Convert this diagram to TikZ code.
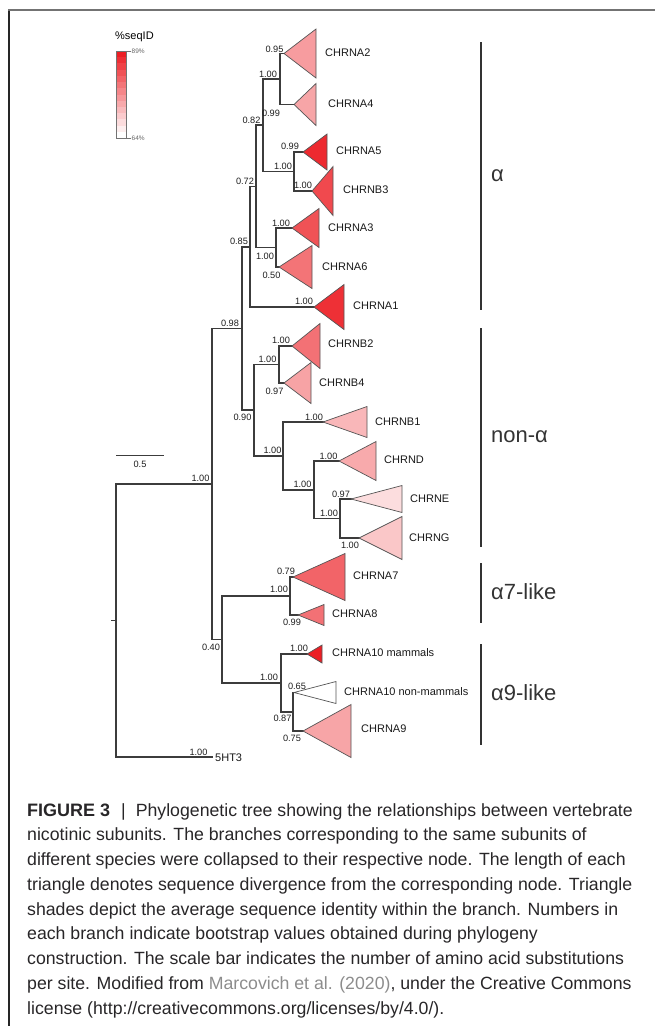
\documentclass[tikz,border=0pt]{standalone}
\usepackage{fontspec}
\setmainfont{Liberation Sans}
\definecolor{myred}{RGB}{236,30,36}
\definecolor{treegray}{RGB}{60,60,60}
\definecolor{edgegray}{RGB}{85,85,85}
\definecolor{captxt}{RGB}{40,38,40}
\definecolor{linkgray}{RGB}{140,140,140}
\begin{document}
\begin{tikzpicture}[x=1pt,y=-1pt,
  br/.style={draw=treegray,line width=1.1pt,line cap=rect},
  tri/.style={draw=edgegray,line width=0.7pt,line join=miter},
  bs/.style={font=\fontsize{9.2}{10}\selectfont,inner sep=0pt,text=black!88},
  tip/.style={font=\fontsize{11}{13}\selectfont,anchor=west,inner sep=0pt,text=black!90},
  grp/.style={font=\fontsize{22}{26}\selectfont,anchor=west,inner sep=0pt,text=black!80},
  grpbar/.style={draw=black!80,line width=1.3pt},
  capline/.style={font=\fontsize{17.7}{24}\selectfont,anchor=base west,inner sep=0pt,text=captxt}]
\useasboundingbox (0,0) rectangle (655,1026);
% frame
\coordinate (f1) at (9,1026);
\coordinate (f2) at (9,10);
\coordinate (f3) at (655,10);
\draw[black!85,line width=1.4pt] (f1) -- (f2);
\draw[black!55,line width=2pt] (8.3,10) -- (f3);
% legend
\node[font=\fontsize{11}{13}\selectfont,anchor=west,inner sep=0pt] (leg) at (115,37) {\%seqID};
\foreach \i in {0,...,13}{
  \pgfmathsetmacro{\pc}{100-\i*100/13}
  \fill[myred!\pc!white] (116,{51+\i*87/14}) rectangle (126,{51+(\i+1)*87/14});
}
\coordinate (lgA) at (116,51);
\coordinate (lgB) at (126,138);
\draw[black!55,line width=0.5pt] (lgA) rectangle (lgB);
\coordinate (tk1) at (131,51);
\coordinate (tk2) at (131,138);
\draw[black!55,line width=0.5pt] (126,51) -- (tk1);
\draw[black!55,line width=0.5pt] (126,138) -- (tk2);
\node[font=\fontsize{6.5}{7}\selectfont,anchor=west,inner sep=0.5pt,text=black!60] (l89) at (tk1) {89\%};
\node[font=\fontsize{6.5}{7}\selectfont,anchor=west,inner sep=0.5pt,text=black!60] (l64) at (tk2) {64\%};
% scale bar
\coordinate (sb1) at (116,455);
\coordinate (sb2) at (164,455);
\draw[treegray,line width=1pt] (sb1) -- (sb2);
\node[bs] (sbl) at (140,464) {0.5};
% tree coordinates
\coordinate (rstub) at (112,620.5);
\coordinate (root) at (116,620.5);
\coordinate (n1) at (212,484);
\coordinate (t5) at (212,757);
\coordinate (n2) at (242,328.5);
\coordinate (n11) at (222,639.5);
\coordinate (n3) at (250,247);
\coordinate (n9) at (254,410);
\coordinate (n4) at (256,186.5);
\coordinate (tA1) at (314,307);
\coordinate (n5) at (263,125);
\coordinate (n8) at (276,247.5);
\coordinate (n6) at (280,79);
\coordinate (n7) at (294,171.5);
\coordinate (tA2) at (284,53.5);
\coordinate (tA4) at (294,104.5);
\coordinate (tA5) at (303,152);
\coordinate (tB3) at (312,191);
\coordinate (tA3) at (292,228);
\coordinate (tA6) at (279,267);
\coordinate (n9a) at (279,364.5);
\coordinate (n10) at (283,456);
\coordinate (tB2) at (292,346);
\coordinate (tB4) at (284,383);
\coordinate (tB1) at (323,422);
\coordinate (n12) at (314,490);
\coordinate (tD) at (339,461);
\coordinate (n13) at (340,518.5);
\coordinate (tE) at (351,499);
\coordinate (tG) at (359,538);
\coordinate (n14) at (290,596);
\coordinate (n15) at (281,683);
\coordinate (tA7) at (293,577);
\coordinate (tA8) at (298,615);
\coordinate (tA10m) at (307,654);
\coordinate (n16) at (293,712);
\coordinate (tA10n) at (294,692.5);
\coordinate (tA9) at (303,731);
% branches
\draw[br] (rstub) -- (root);
\draw[br] (root) |- (n1);
\draw[br] (root) |- (t5);
\draw[br] (n1) |- (n2);
\draw[br] (n1) |- (n11);
\draw[br] (n2) |- (n3);
\draw[br] (n2) |- (n9);
\draw[br] (n3) |- (n4);
\draw[br] (n3) |- (tA1);
\draw[br] (n4) |- (n5);
\draw[br] (n4) |- (n8);
\draw[br] (n5) |- (n6);
\draw[br] (n5) |- (n7);
\draw[br] (n6) |- (tA2);
\draw[br] (n6) |- (tA4);
\draw[br] (n7) |- (tA5);
\draw[br] (n7) |- (tB3);
\draw[br] (n8) |- (tA3);
\draw[br] (n8) |- (tA6);
\draw[br] (n9) |- (n9a);
\draw[br] (n9) |- (n10);
\draw[br] (n9a) |- (tB2);
\draw[br] (n9a) |- (tB4);
\draw[br] (n10) |- (tB1);
\draw[br] (n10) |- (n12);
\draw[br] (n12) |- (tD);
\draw[br] (n12) |- (n13);
\draw[br] (n13) |- (tE);
\draw[br] (n13) |- (tG);
\draw[br] (n11) |- (n14);
\draw[br] (n11) |- (n15);
\draw[br] (n14) |- (tA7);
\draw[br] (n14) |- (tA8);
\draw[br] (n15) |- (tA10m);
\draw[br] (n15) |- (n16);
\draw[br] (n16) |- (tA10n);
\draw[br] (n16) |- (tA9);
% collapsed clades
\draw[tri,fill=myred!44!white] (tA2) -- ++(32,-24.5) -- ++(0,49) -- cycle;
\draw[tri,fill=myred!40!white] (tA4) -- ++(22,-21) -- ++(0,42) -- cycle;
\draw[tri,fill=myred!95!white] (tA5) -- ++(24,-18) -- ++(0,36) -- cycle;
\draw[tri,fill=myred!81!white] (tB3) -- ++(21,-24.5) -- ++(0,49) -- cycle;
\draw[tri,fill=myred!77!white] (tA3) -- ++(27,-19.5) -- ++(0,39) -- cycle;
\draw[tri,fill=myred!62!white] (tA6) -- ++(33,-21.5) -- ++(0,43) -- cycle;
\draw[tri,fill=myred!92!white] (tA1) -- ++(30,-22.5) -- ++(0,45) -- cycle;
\draw[tri,fill=myred!63!white] (tB2) -- ++(28,-22.5) -- ++(0,45) -- cycle;
\draw[tri,fill=myred!41!white] (tB4) -- ++(27,-20.5) -- ++(0,41) -- cycle;
\draw[tri,fill=myred!32!white] (tB1) -- ++(44,-15.5) -- ++(0,31) -- cycle;
\draw[tri,fill=myred!38!white] (tD) -- ++(37,-19.5) -- ++(0,39) -- cycle;
\draw[tri,fill=myred!15!white] (tE) -- ++(51,-13.5) -- ++(0,27) -- cycle;
\draw[tri,fill=myred!25!white] (tG) -- ++(43,-21.5) -- ++(0,43) -- cycle;
\draw[tri,fill=myred!69!white] (tA7) -- ++(52,-23.5) -- ++(0,47) -- cycle;
\draw[tri,fill=myred!63!white] (tA8) -- ++(26,-10.5) -- ++(0,21) -- cycle;
\draw[tri,fill=myred] (tA10m) -- ++(15,-9) -- ++(0,18) -- cycle;
\draw[tri,fill=white] (tA10n) -- ++(42,-11) -- ++(0,22) -- cycle;
\draw[tri,fill=myred!40!white] (tA9) -- ++(48,-26.5) -- ++(0,53) -- cycle;
% tip labels
\node[tip] (lA2) at (325,53) {CHRNA2};
\node[tip] (lA4) at (328,104) {CHRNA4};
\node[tip] (lA5) at (336,151) {CHRNA5};
\node[tip] (lB3) at (343,190) {CHRNB3};
\node[tip] (lA3) at (328,228) {CHRNA3};
\node[tip] (lA6) at (322,267) {CHRNA6};
\node[tip] (lA1) at (353,306) {CHRNA1};
\node[tip] (lB2) at (328,344) {CHRNB2};
\node[tip] (lB4) at (319,383) {CHRNB4};
\node[tip] (lB1) at (375,422) {CHRNB1};
\node[tip] (lD) at (384,460) {CHRND};
\node[tip] (lE) at (410,499) {CHRNE};
\node[tip] (lG) at (409,538) {CHRNG};
\node[tip] (lA7) at (353,576) {CHRNA7};
\node[tip] (lA8) at (332,614) {CHRNA8};
\node[tip] (lA10m) at (332,653) {CHRNA10 mammals};
\node[tip] (lA10n) at (344,692) {CHRNA10 non-mammals};
\node[tip] (lA9) at (361,729) {CHRNA9};
\node[tip] (l5) at (215,758) {5HT3};
% bootstrap values
\node[bs] (b6) at (268,74) {1.00};
\node[bs] (bA2) at (274.5,49) {0.95};
\node[bs] (bA4) at (271,113) {0.99};
\node[bs] (b5) at (251.5,120) {0.82};
\node[bs] (bA5) at (290,146) {0.99};
\node[bs] (b7) at (283,166) {1.00};
\node[bs] (bB3) at (303,185) {1.00};
\node[bs] (b4) at (245,181) {0.72};
\node[bs] (b8) at (265,256) {1.00};
\node[bs] (bA3) at (281,223) {1.00};
\node[bs] (bA6) at (271.5,275) {0.50};
\node[bs] (b3) at (239,241) {0.85};
\node[bs] (bA1) at (304,301) {1.00};
\node[bs] (b2) at (230,323) {0.98};
\node[bs] (b9a) at (267.5,359) {1.00};
\node[bs] (bB2) at (281,340) {1.00};
\node[bs] (bB4) at (274.5,391) {0.97};
\node[bs] (b9) at (242.5,417) {0.90};
\node[bs] (b10) at (272.5,450) {1.00};
\node[bs] (bB1) at (314,417) {1.00};
\node[bs] (b12) at (302.5,484) {1.00};
\node[bs] (bD) at (328.5,456) {1.00};
\node[bs] (b13) at (329,513) {1.00};
\node[bs] (bE) at (341,494) {0.97};
\node[bs] (bG) at (350,545) {1.00};
\node[bs] (b1) at (200.5,478) {1.00};
\node[bs] (b11) at (211,647) {0.40};
\node[bs] (b14) at (279,589) {1.00};
\node[bs] (bA7) at (286,571) {0.79};
\node[bs] (bA8) at (292,622) {0.99};
\node[bs] (b15) at (269,677) {1.00};
\node[bs] (bA10m) at (299,648) {1.00};
\node[bs] (bA10n) at (297,686) {0.65};
\node[bs] (b16) at (282.5,718) {0.87};
\node[bs] (bA9) at (292,738) {0.75};
\node[bs] (b5h) at (198.5,752) {1.00};
% group bars
\coordinate (ga1) at (481,42);  \coordinate (ga2) at (481,310);
\coordinate (gb1) at (481,328); \coordinate (gb2) at (481,547);
\coordinate (gc1) at (481,563); \coordinate (gc2) at (481,623);
\coordinate (gd1) at (481,644); \coordinate (gd2) at (481,745);
\draw[grpbar] (ga1) -- (ga2);
\draw[grpbar] (gb1) -- (gb2);
\draw[grpbar] (gc1) -- (gc2);
\draw[grpbar] (gd1) -- (gd2);
\node[grp] (gA) at (491,176) {α};
\node[grp] (gB) at (491,437) {non-α};
\node[grp] (gC) at (491,592) {α7-like};
\node[grp] (gD) at (491,693) {α9-like};
% caption
\node[capline] (c1) at (27,816) {{\fontsize{18}{24}\selectfont\textbf{FIGURE 3}}\hspace{11pt}|\hspace{10pt}Phylogenetic tree showing the relationships between vertebrate};
\node[capline] (c2) at (27,840.75) {nicotinic subunits. The branches corresponding to the same subunits of};
\node[capline] (c3) at (27,865.5) {different species were collapsed to their respective node. The length of each};
\node[capline] (c4) at (27,890.25) {triangle denotes sequence divergence from the corresponding node. Triangle};
\node[capline] (c5) at (27,915) {shades depict the average sequence identity within the branch. Numbers in};
\node[capline] (c6) at (27,939.75) {each branch indicate bootstrap values obtained during phylogeny};
\node[capline] (c7) at (27,964.5) {construction. The scale bar indicates the number of amino acid substitutions};
\node[capline] (c8) at (27,989.25) {per site. Modified from \textcolor{linkgray}{Marcovich et al. (2020)}, under the Creative Commons};
\node[capline] (c9) at (27,1014) {license (http://creativecommons.org/licenses/by/4.0/).};
\end{tikzpicture}
\end{document}
